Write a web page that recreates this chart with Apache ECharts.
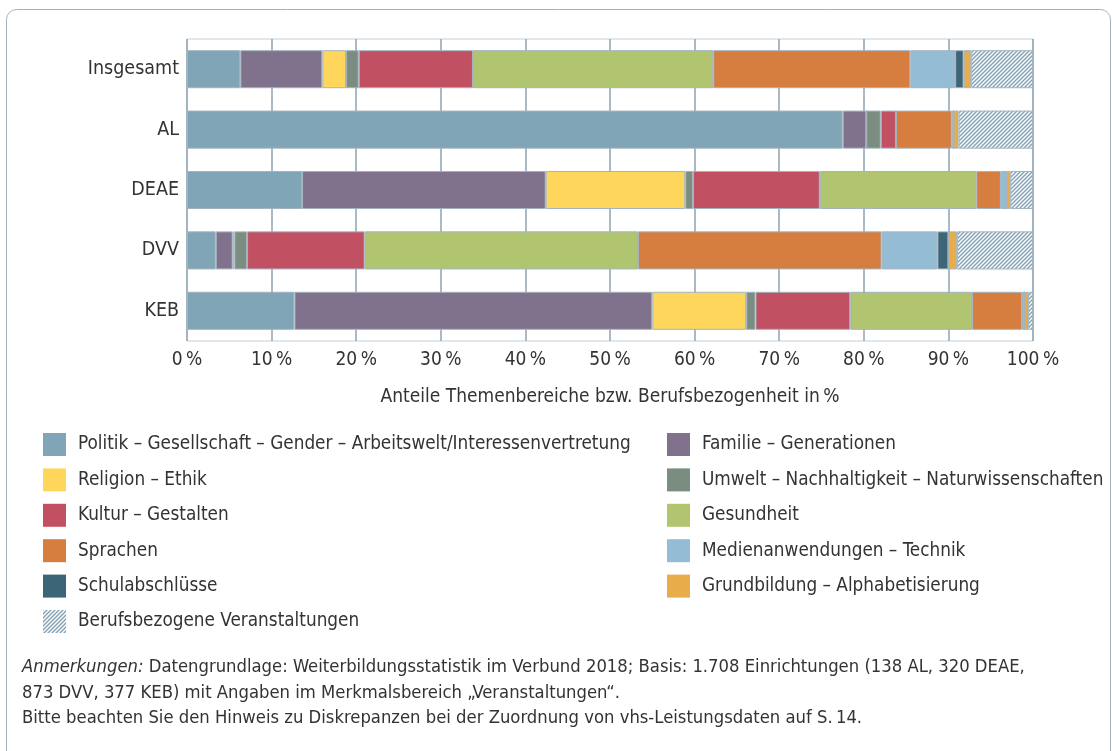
<!DOCTYPE html>
<html>
<head>
<meta charset="utf-8">
<script src="https://cdn.jsdelivr.net/npm/echarts@6/dist/echarts.min.js"></script>
<style>
html,body{margin:0;padding:0;background:#fff;}
#chart{width:1112px;height:751px;}
</style>
</head>
<body>
<div id="chart"></div>
<script>
var categories = ['Insgesamt', 'AL', 'DEAE', 'DVV', 'KEB'];
var xTicks = [0, 10, 20, 30, 40, 50, 60, 70, 80, 90, 100];

// Anteile in % je Verband (Reihenfolge wie categories)
var politik    = [6.3, 77.5, 13.6, 3.4, 12.7];
var familie    = [9.7, 2.8, 28.8, 2.0, 42.3];
var religion   = [2.8, 0, 16.5, 0.2, 11.1];
var umwelt     = [1.5, 1.7, 0.9, 1.5, 1.1];
var kultur     = [13.5, 1.8, 15.0, 13.9, 11.2];
var gesundheit = [28.4, 0, 18.5, 32.3, 14.4];
var sprachen   = [23.3, 6.6, 2.9, 28.8, 5.9];
var medien     = [5.3, 0.2, 0.7, 6.6, 0.3];
var schul      = [1.0, 0, 0, 1.3, 0];
var grund      = [0.9, 0.6, 0.4, 1.0, 0.4];
var beruf      = [7.3, 8.8, 2.7, 9.0, 0.6];

var FONT = "'Liberation Sans Narrow', 'DejaVu Sans Condensed', 'Open Sans', sans-serif";

function hatch(){
	var c = document.createElement('canvas');
	c.width = 4; c.height = 4;
	var ctx = c.getContext('2d');
	ctx.fillStyle = '#ffffff';
	ctx.fillRect(0, 0, 4, 4);
	ctx.strokeStyle = '#86a3b5';
	ctx.lineWidth = 1.5;
	ctx.beginPath();
	ctx.moveTo(0, 4); ctx.lineTo(4, 0);
	ctx.moveTo(-1, 1); ctx.lineTo(1, -1);
	ctx.moveTo(3, 5); ctx.lineTo(5, 3);
	ctx.stroke();
	return c;
}

var themes = [
	{name:'Politik – Gesellschaft – Gender – Arbeitswelt/Interessenvertretung', data:politik, color:'#7fa5b6'},
	{name:'Familie – Generationen', data:familie, color:'#80728c'},
	{name:'Religion – Ethik', data:religion, color:'#fed65b'},
	{name:'Umwelt – Nachhaltigkeit – Naturwissenschaften', data:umwelt, color:'#7b8d80'},
	{name:'Kultur – Gestalten', data:kultur, color:'#c05062'},
	{name:'Gesundheit', data:gesundheit, color:'#b1c46f'},
	{name:'Sprachen', data:sprachen, color:'#d67d40'},
	{name:'Medienanwendungen – Technik', data:medien, color:'#94bcd4'},
	{name:'Schulabschlüsse', data:schul, color:'#3c6577'},
	{name:'Grundbildung – Alphabetisierung', data:grund, color:'#e9ac4a'},
	{name:'Berufsbezogene Veranstaltungen', data:beruf, color:{image:hatch(), repeat:'repeat'}}
];

var series = [];
var leftNames = [], rightNames = [];
for(var i = 0; i < themes.length; i++){
	series.push({
		name: themes[i].name,
		type: 'bar',
		stack: 'all',
		barWidth: '63%',
		data: themes[i].data,
		itemStyle: {color: themes[i].color, borderColor: '#a3b4bf', borderWidth: 1},
		emphasis: {disabled: true}
	});
	if(i % 2 == 0){ leftNames.push(themes[i].name); } else { rightNames.push(themes[i].name); }
}

var legendBase = {
	orient: 'vertical',
	top: 433,
	padding: 0,
	itemWidth: 23,
	itemHeight: 23,
	itemGap: 12.4,
	icon: 'rect',
	selectedMode: false,
	itemStyle: {borderWidth: 0},
	textStyle: {fontFamily: FONT, fontSize: 18.8, color: '#333', padding: [0, 0, 0, 7]}
};

var chart = echarts.init(document.getElementById('chart'));
var option = {
	animation: false,
	textStyle: {fontFamily: FONT},
	grid: {
		left: 187, right: 79, top: 39, bottom: 410,
		show: true, borderColor: '#c3cfd6', borderWidth: 1
	},
	xAxis: {
		type: 'value',
		min: xTicks[0], max: xTicks[xTicks.length - 1], interval: 10,
		axisLine: {show: false},
		axisTick: {show: false},
		splitLine: {show: true, lineStyle: {color: '#8ea3b0', width: 1.5}},
		axisLabel: {
			fontFamily: FONT, fontSize: 19, color: '#333', margin: 10,
			formatter: function(v){ return v + '\u2009%'; }
		},
		name: 'Anteile Themenbereiche bzw. Berufsbezogenheit in\u2009%',
		nameLocation: 'middle',
		nameGap: 47,
		nameTextStyle: {fontFamily: FONT, fontSize: 19, color: '#333'}
	},
	yAxis: {
		type: 'category',
		data: categories,
		inverse: true,
		axisLine: {show: false},
		axisTick: {show: false},
		axisLabel: {fontFamily: FONT, fontSize: 19.5, color: '#333', margin: 8}
	},
	legend: [
		Object.assign({}, legendBase, {left: 43, data: leftNames}),
		Object.assign({}, legendBase, {left: 667, data: rightNames})
	],
	graphic: [
		{
			type: 'rect', z: -1, silent: true,
			shape: {x: 6.5, y: 9.5, width: 1104, height: 780, r: 10},
			style: {fill: 'none', stroke: '#9fb3bf', lineWidth: 1}
		},
		{
			type: 'text', left: 22, top: 655, silent: true,
			style: {
				text: '{i|Anmerkungen:} Datengrundlage: Weiterbildungsstatistik im Verbund 2018; Basis: 1.708 Einrichtungen (138 AL, 320 DEAE,\n873 DVV, 377 KEB) mit Angaben im Merkmalsbereich „Veranstaltungen“.\nBitte beachten Sie den Hinweis zu Diskrepanzen bei der Zuordnung von vhs-Leistungsdaten auf S.\u200914.',
				fontFamily: FONT, fontSize: 18.3, fill: '#333', lineHeight: 25.5,
				rich: {i: {fontStyle: 'italic', fontFamily: FONT, fontSize: 18.3, fill: '#333'}}
			}
		}
	],
	series: series
};
chart.setOption(option);
</script>
</body>
</html>
